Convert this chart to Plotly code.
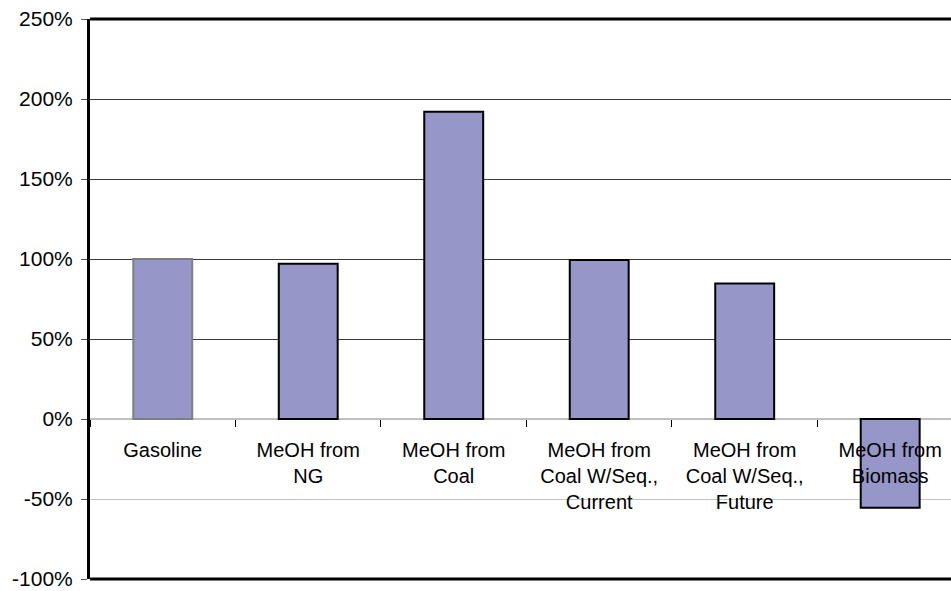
import plotly.graph_objects as go

categories = ["Gasoline", "MeOH from<br>NG", "MeOH from<br>Coal",
              "MeOH from<br>Coal W/Seq.,<br>Current", "MeOH from<br>Coal W/Seq.,<br>Future",
              "MeOH from<br>Biomass"]
values = [100, 97, 192, 99.3, 84.7, -55.5]
border_colors = ["#7f7f7f", "#000000", "#000000", "#000000", "#000000", "#000000"]
y_ticks = [-100, -50, 0, 50, 100, 150, 200, 250]
y_tick_text = ["-100%", "-50%", "0%", "50%", "100%", "150%", "200%", "250%"]
dark_grid = [50, 100, 150, 200]
light_grid = [-50]

FONT = "Arial, Liberation Sans, sans-serif"

fig = go.Figure()
fig.add_trace(go.Bar(x=[], y=[], yaxis="y2", showlegend=False, hoverinfo="skip"))
fig.add_trace(go.Bar(x=[], y=[], yaxis="y3", showlegend=False, hoverinfo="skip"))
fig.add_trace(go.Bar(
    x=categories, y=values, width=0.405,
    marker=dict(color="#9696C8", line=dict(color=border_colors, width=2)),
))

grid_axis = dict(range=[-100, 250], overlaying="y", anchor="x", side="left",
                 showticklabels=False, ticks="", zeroline=False, showline=False,
                 automargin=False, gridwidth=1)

fig.update_layout(
    width=951, height=591,
    margin=dict(l=90, r=0, t=19, b=12),
    plot_bgcolor="white", paper_bgcolor="white",
    showlegend=False, barmode="overlay",
    font=dict(family=FONT, size=20, color="black"),
    xaxis=dict(
        range=[-0.5, 5.418], anchor="free", position=100 / 350,
        showline=False, showgrid=False, zeroline=False, automargin=False,
        ticks="outside", tickson="boundaries", ticklen=7, tickcolor="black", tickwidth=1,
        ticklabelstandoff=17, ticklabeloverflow="allow",
        tickfont=dict(family=FONT, size=20, color="black"),
    ),
    yaxis=dict(
        range=[-100, 250], tickmode="array", tickvals=y_ticks, ticktext=y_tick_text,
        showline=True, linecolor="black", linewidth=3, automargin=False,
        showgrid=False,
        zeroline=True, zerolinecolor="#c0c0c0", zerolinewidth=1.5,
        ticks="outside", ticklen=6, tickcolor="#555555", tickwidth=1,
        ticklabelstandoff=4, ticklabeloverflow="allow",
        tickfont=dict(family=FONT, size=21, color="black"),
    ),
    yaxis2=dict(grid_axis, tickmode="array", tickvals=dark_grid, showgrid=True, gridcolor="#3a3a3a"),
    yaxis3=dict(grid_axis, tickmode="array", tickvals=light_grid, showgrid=True, gridcolor="#c4c4c4"),
    shapes=[
        dict(type="line", xref="paper", yref="paper", x0=0, x1=1, y0=1, y1=1,
             line=dict(color="black", width=3)),
        dict(type="line", xref="paper", yref="paper", x0=0, x1=1, y0=0, y1=0,
             line=dict(color="black", width=3)),
    ],
)

fig.write_html(
    "out.html",
    config={"displayModeBar": False},
    post_script="document.body.style.margin='0';document.body.style.overflow='hidden';",
)
